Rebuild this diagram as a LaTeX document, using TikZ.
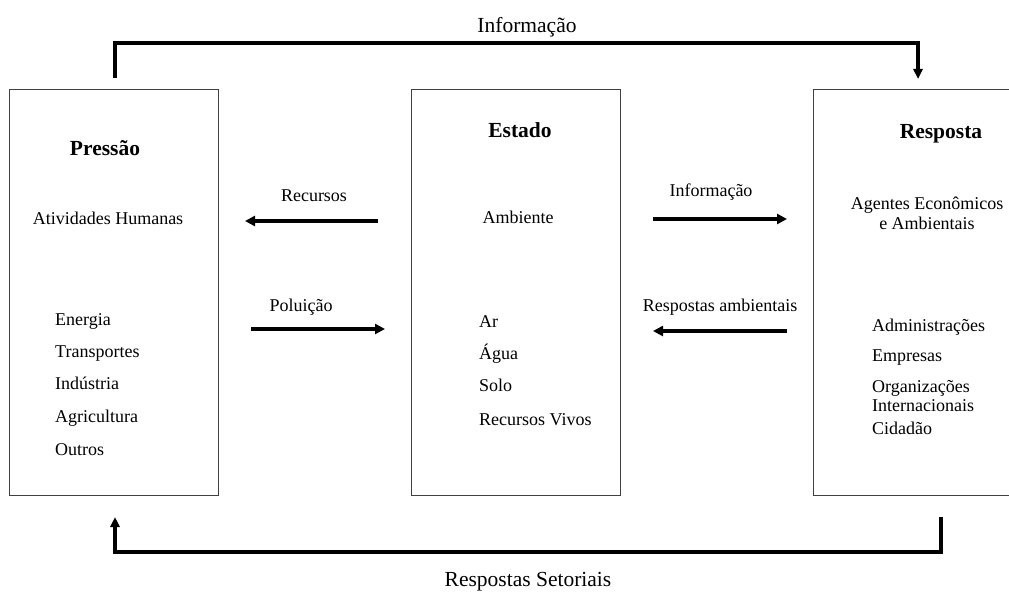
\documentclass[tikz,border=0pt]{standalone}
\usepackage{fontspec}
\setmainfont{Liberation Serif}
\usetikzlibrary{arrows.meta}
\begin{document}
\begin{tikzpicture}[x=1pt,y=-1pt,
  box/.style={draw=black!75,line width=1.3pt,minimum height=406pt,inner sep=0pt,anchor=north west},
  txt/.style={font=\fontsize{18}{20}\selectfont,inner sep=0pt,text height=12.6pt,text depth=3.6pt},
  item/.style={txt,anchor=west},
  head/.style={font=\fontsize{21.5}{24}\selectfont\bfseries,inner sep=0pt,text height=15pt,text depth=4.3pt},
  big/.style={font=\fontsize{21.5}{24}\selectfont,inner sep=0pt,text height=15pt,text depth=4.3pt},
  flow/.style={line width=3.4pt,-{Triangle[length=10pt,width=10pt]}},
  loop/.style={line width=3.4pt,line join=miter,-{Triangle[length=10pt,width=9pt]}}
]
\useasboundingbox (0,0) rectangle (1009,594);
\clip (0,0) rectangle (1009,594);

% boxes
\node[box,minimum width=209pt] (P) at (9,89) {};
\node[box,minimum width=209pt] (E) at (411,89) {};
\node[box,minimum width=240pt] (R) at (813,89) {};

% Pressao
\node[head] (pt) at (105,150) {Pressão};
\node[txt] (ph) at (108,220) {Atividades Humanas};
\node[item] (p1) at (55,321) {Energia};
\node[item] (p2) at (55,353) {Transportes};
\node[item] (p3) at (55,385) {Indústria};
\node[item] (p4) at (55,418) {Agricultura};
\node[item] (p5) at (55,451) {Outros};

% Estado
\node[head] (et) at (520,132) {Estado};
\node[txt] (eh) at (518,219) {Ambiente};
\node[item] (e1) at (479,323) {Ar};
\node[item] (e2) at (479,355) {Água};
\node[item] (e3) at (479,387) {Solo};
\node[item] (e4) at (479,421) {Recursos Vivos};

% Resposta
\node[head] (rt) at (941,133) {Resposta};
\node[txt,align=center] (rh) at (927,225) {Agentes Econômicos\\e Ambientais};
\node[item] (r1) at (872,327) {Administrações};
\node[item] (r2) at (872,357) {Empresas};
\node[font=\fontsize{18}{19.5}\selectfont,inner sep=0pt,anchor=west,align=left] (r3) at (872,396) {Organizações\\Internacionais};
\node[item] (r4) at (872,430) {Cidadão};

% middle arrows
\node[txt] (lrec) at (314,197) {Recursos};
\coordinate (rec1) at (378,221);
\coordinate (rec2) at (245,221);
\draw[flow] (rec1) -- (rec2);

\node[txt] (lpol) at (301,307) {Poluição};
\coordinate (pol1) at (251,329);
\coordinate (pol2) at (385,329);
\draw[flow] (pol1) -- (pol2);

\node[txt] (linf) at (711,192) {Informação};
\coordinate (inf1) at (653,219);
\coordinate (inf2) at (787,219);
\draw[flow] (inf1) -- (inf2);

\node[txt] (lres) at (720,307) {Respostas ambientais};
\coordinate (res1) at (787,331);
\coordinate (res2) at (653,331);
\draw[flow] (res1) -- (res2);

% top loop
\node[big] (ltop) at (527,27) {Informação};
\coordinate (t1) at (115,78);
\coordinate (t2) at (918,79);
\draw[loop] (t1) -- (115,43) -- (918,43) -- (t2);

% bottom loop
\node[big] (lbot) at (528,581) {Respostas Setoriais};
\coordinate (b1) at (941,517);
\coordinate (b2) at (115,517);
\draw[loop] (b1) -- (941,552) -- (115,552) -- (b2);
\end{tikzpicture}
\end{document}
